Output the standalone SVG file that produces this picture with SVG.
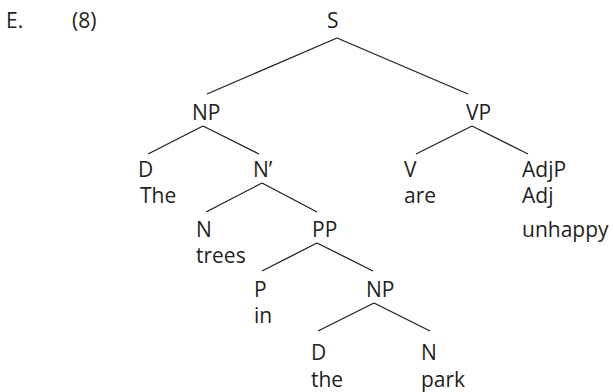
<svg xmlns="http://www.w3.org/2000/svg" width="613" height="392" viewBox="0 0 613 392">
<style>
text { font-family: "Open Sans", "Noto Sans", "DejaVu Sans", sans-serif; font-size: 21px; fill: #231f20; }
.edge { stroke: #231f20; stroke-width: 1.3; fill: none; }
</style>
<rect width="613" height="392" fill="#ffffff"/>
<g id="header">
<text x="6" y="28">E.</text>
<text x="72" y="28">(8)</text>
</g>
<g id="connectors">
<line class="edge" x1="337" y1="38" x2="207" y2="94"/>
<line class="edge" x1="337" y1="38" x2="468" y2="94"/>
<line class="edge" x1="203" y1="126" x2="148" y2="154"/>
<line class="edge" x1="203" y1="126" x2="259" y2="154"/>
<line class="edge" x1="472" y1="126" x2="416" y2="154"/>
<line class="edge" x1="472" y1="126" x2="528" y2="154"/>
<line class="edge" x1="262" y1="183" x2="206" y2="212"/>
<line class="edge" x1="262" y1="183" x2="317" y2="212"/>
<line class="edge" x1="317" y1="243" x2="262" y2="271"/>
<line class="edge" x1="317" y1="243" x2="373" y2="271"/>
<line class="edge" x1="374" y1="303" x2="318" y2="331"/>
<line class="edge" x1="374" y1="303" x2="430" y2="331"/>
</g>
<g id="node-S"><text x="327" y="28">S</text></g>
<g id="node-NP1"><text x="192" y="120">NP</text></g>
<g id="node-VP"><text x="466" y="120">VP</text></g>
<g id="node-D1"><text x="138" y="177">D</text><text x="140" y="203">The</text></g>
<g id="node-Nbar"><text x="253" y="177">N’</text></g>
<g id="node-V"><text x="404" y="177">V</text><text x="404" y="203">are</text></g>
<g id="node-AdjP"><text x="522" y="177">AdjP</text><text x="522" y="203">Adj</text><text x="522" y="237">unhappy</text></g>
<g id="node-N1"><text x="196" y="237">N</text><text x="196" y="263">trees</text></g>
<g id="node-PP"><text x="312" y="237">PP</text></g>
<g id="node-P"><text x="254" y="297">P</text><text x="254" y="323">in</text></g>
<g id="node-NP2"><text x="366" y="297">NP</text></g>
<g id="node-D2"><text x="311" y="360">D</text><text x="311" y="387">the</text></g>
<g id="node-N2"><text x="421" y="360">N</text><text x="421" y="387">park</text></g>
</svg>
